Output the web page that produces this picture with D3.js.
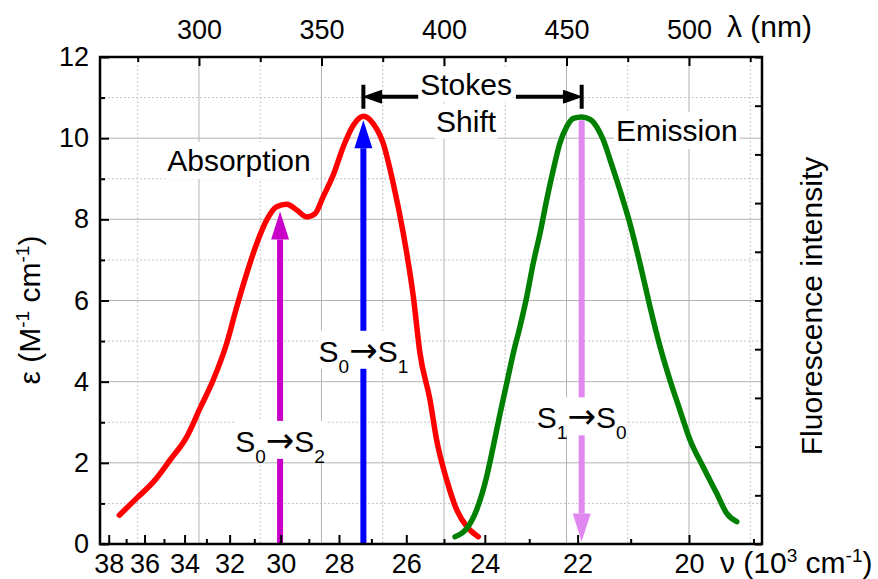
<!DOCTYPE html>
<html>
<head>
<meta charset="utf-8">
<script src="https://cdn.jsdelivr.net/npm/d3@7"></script>
<style>
body { margin:0; background:#fff; }
text { font-family:"Liberation Sans", Arial, sans-serif; }
</style>
</head>
<body>
<div id="vis"></div>
<script>
// absorption spectrum: wavelength (nm) and epsilon
var absLambda = [267.5,274.6,281.4,288.2,295.0,300.4,305.8,311.3,315.4,319.5,323.6,327.6,331.7,335.8,339.9,344.0,347.4,350.7,354.8,358.9,363.0,367.1,371.1,375.2,379.3,383.4,387.5,390.2,394.3,397.0,401.1,405.2,409.3,414.0]
var absEps    = [0.71,1.13,1.53,2.07,2.64,3.34,4.04,4.94,5.84,6.67,7.41,7.98,8.31,8.37,8.23,8.06,8.14,8.56,9.09,9.79,10.32,10.54,10.36,9.87,8.88,7.65,6.09,4.70,3.55,2.56,1.58,0.84,0.43,0.18]
// emission spectrum: wavelength (nm) and fluorescence intensity (a.u.)
var emLambda = [404.5,409.3,413.3,417.4,420.1,422.9,425.6,428.3,431.0,433.8,436.4,439.2,441.9,444.6,447.3,450.1,452.8,456.2,459.6,462.3,465.0,467.8,471.8,475.9,480.0,484.1,488.2,492.2,496.3,500.4,505.8,511.3,515.4,519.5]
var emInt    = [0.15,0.32,0.70,1.38,2.00,2.68,3.30,3.92,4.46,5.08,5.76,6.38,7.06,7.68,8.23,8.57,8.74,8.77,8.72,8.57,8.30,7.89,7.27,6.58,5.76,4.87,4.05,3.37,2.75,2.14,1.58,1.04,0.63,0.46]

// ticks
var nuMajor = [38,36,34,32,30,28,26,24,22,20]
var nuMinor = [37,35,33,31,29,27,25,23,21,19]
var lamMajor = [300,350,400,450,500]
var lamMinor = [275,325,375,425,475,525]
var epsMajor = [0,2,4,6,8,10,12]
var epsMinor = [1,3,5,7,9,11]
var fluoTicks = [0,1,2,3,4,5,6,7,8,9,10]

// transitions
var transFrom  = ["0","0","1"]
var transTo    = ["2","1","0"]
var transLambda = [333.1,367.1,456.2]
var transStart = [0,0,10.44]
var transEnd   = [8.19,10.44,0.06]
var transColor = ["#c800c8","#0000ff","#e088f0"]

var w = 878
var h = 579
var pLeft = 100, pRight = 762, pTop = 57, pBottom = 544

var chart = d3.select("#vis")
              .append("svg")
              .attr("width", w)
              .attr("height", h)

const xScale = d3.scaleLinear()
            .domain([259.6, 529.8])
            .range([pLeft, pRight])
const yScale = d3.scaleLinear()
            .domain([0, 12])
            .range([pBottom, pTop])
const y2Scale = d3.scaleLinear()
            .domain([0, 10])
            .range([pBottom, pTop])

// grid
var grid = chart.append("g")
grid.selectAll(".vmaj").data(lamMajor).enter().append("line")
    .attr("x1", d => xScale(d)).attr("x2", d => xScale(d))
    .attr("y1", pTop).attr("y2", pBottom)
    .attr("stroke", "#b4b4b4").attr("stroke-width", 1)
grid.selectAll(".vmin").data(lamMinor).enter().append("line")
    .attr("x1", d => xScale(d)).attr("x2", d => xScale(d))
    .attr("y1", pTop).attr("y2", pBottom)
    .attr("stroke", "#c4c4c4").attr("stroke-width", 1).attr("stroke-dasharray", "2,2")
grid.selectAll(".hmaj").data(epsMajor.slice(1, -1)).enter().append("line")
    .attr("y1", d => yScale(d)).attr("y2", d => yScale(d))
    .attr("x1", pLeft).attr("x2", pRight)
    .attr("stroke", "#b4b4b4").attr("stroke-width", 1)
grid.selectAll(".hmin").data(epsMinor).enter().append("line")
    .attr("y1", d => yScale(d)).attr("y2", d => yScale(d))
    .attr("x1", pLeft).attr("x2", pRight)
    .attr("stroke", "#c4c4c4").attr("stroke-width", 1).attr("stroke-dasharray", "2,2")

// curves
var absData = absLambda.map((l, i) => [l, absEps[i]])
var emData = emLambda.map((l, i) => [l, emInt[i]])

chart.append("path").datum(absData)
     .attr("d", d3.line().x(d => xScale(d[0])).y(d => yScale(d[1])).curve(d3.curveMonotoneX))
     .attr("fill", "none").attr("stroke", "#ff0000").attr("stroke-width", 5.5)
     .attr("stroke-linecap", "round").attr("stroke-linejoin", "round")
chart.append("path").datum(emData)
     .attr("d", d3.line().x(d => xScale(d[0])).y(d => y2Scale(d[1])).curve(d3.curveMonotoneX))
     .attr("fill", "none").attr("stroke", "#008000").attr("stroke-width", 5.5)
     .attr("stroke-linecap", "round").attr("stroke-linejoin", "round")

// transition arrows
transLambda.forEach(function(l, i) {
  var x = xScale(l)
  var y0 = yScale(transStart[i])
  var y1 = yScale(transEnd[i])
  var dir = y1 < y0 ? -1 : 1
  var yb = y1 - dir * 28
  chart.append("line").attr("x1", x).attr("x2", x).attr("y1", y0).attr("y2", yb)
       .attr("stroke", transColor[i]).attr("stroke-width", 6)
  chart.append("path").attr("d", `M${x - 9},${yb} L${x},${y1} L${x + 9},${yb} Z`)
       .attr("fill", transColor[i])
})

// labels with white box behind
function boxed(t, pad) {
  var b = t.node().getBBox()
  chart.insert("rect", () => t.node())
       .attr("x", b.x - pad).attr("y", b.y - pad)
       .attr("width", b.width + 2 * pad).attr("height", b.height + 2 * pad)
       .attr("fill", "#fff")
}

var labelEps = [2.27, 4.49, 2.85]
transLambda.forEach(function(l, i) {
  var t = chart.append("text")
      .attr("x", xScale(l)).attr("y", yScale(labelEps[i]))
      .attr("text-anchor", "middle").attr("font-size", 30)
  t.append("tspan").text("S")
  t.append("tspan").attr("font-size", 19).attr("dy", 11).text(transFrom[i])
  t.append("tspan").attr("dy", -11).attr("font-family", "'DejaVu Sans'").attr("font-size", 34).text("\u2192")
  t.append("tspan").text("S")
  t.append("tspan").attr("font-size", 19).attr("dy", 11).text(transTo[i])
  var b = t.node().getBBox()
  var yb = yScale(labelEps[i])
  chart.insert("rect", () => t.node())
       .attr("x", b.x - 1).attr("y", yb - 31)
       .attr("width", b.width + 2).attr("height", 38)
       .attr("fill", "#fff")
})

var absT = chart.append("text").attr("x", xScale(316.3)).attr("y", yScale(9.19))
     .attr("text-anchor", "middle").attr("font-size", 30).text("Absorption")
boxed(absT, 2)
var emT = chart.append("text").attr("x", xScale(495)).attr("y", yScale(9.93))
     .attr("text-anchor", "middle").attr("font-size", 30).text("Emission")
boxed(emT, 2)
var stT = chart.append("text").attr("x", xScale(409)).attr("y", yScale(11.06))
     .attr("text-anchor", "middle").attr("font-size", 30).text("Stokes")
boxed(stT, 1)
var shT = chart.append("text").attr("x", xScale(409)).attr("y", yScale(10.16))
     .attr("text-anchor", "middle").attr("font-size", 30).text("Shift")
boxed(shT, 1)

// Stokes shift arrows between the two maxima
var sy = yScale(11.02)
var sb = stT.node().getBBox()
var xa = xScale(transLambda[1]), xe = xScale(transLambda[2])
chart.append("line").attr("x1", sb.x - 2).attr("x2", xa + 14).attr("y1", sy).attr("y2", sy)
     .attr("stroke", "#000").attr("stroke-width", 4)
chart.append("path").attr("d", `M${xa + 18},${sy - 6} L${xa + 1},${sy} L${xa + 18},${sy + 6} Z`)
     .attr("fill", "#000").attr("stroke", "#000").attr("stroke-width", 1.5).attr("stroke-linejoin", "round")
chart.append("line").attr("x1", sb.x + sb.width + 4).attr("x2", xe - 14).attr("y1", sy).attr("y2", sy)
     .attr("stroke", "#000").attr("stroke-width", 4)
chart.append("path").attr("d", `M${xe - 18},${sy - 6} L${xe - 1},${sy} L${xe - 18},${sy + 6} Z`)
     .attr("fill", "#000").attr("stroke", "#000").attr("stroke-width", 1.5).attr("stroke-linejoin", "round")
;[xa, xe].forEach(function(x) {
  chart.append("line").attr("x1", x).attr("x2", x).attr("y1", sy - 12).attr("y2", sy + 12)
       .attr("stroke", "#000").attr("stroke-width", 4)
})

// axes
function styleAxis(g, fs) {
  g.select(".domain").remove()
  g.selectAll(".tick line").attr("stroke", "#000").attr("stroke-width", 2)
  g.selectAll(".tick text").attr("font-size", fs).attr("fill", "#000")
   .attr("font-family", "'Liberation Sans', Arial, sans-serif")
}

var xBot = chart.append("g").attr("transform", `translate(0,${pBottom})`)
     .call(d3.axisBottom(xScale).tickValues(nuMajor.map(n => 1e4 / n))
           .tickSize(-9).tickPadding(10).tickFormat((d, i) => nuMajor[i]))
styleAxis(xBot, 27)
var xBotMin = chart.append("g").attr("transform", `translate(0,${pBottom})`)
     .call(d3.axisBottom(xScale).tickValues(nuMinor.map(n => 1e4 / n)).tickSize(-5).tickFormat(""))
styleAxis(xBotMin, 27)

var xTop = chart.append("g").attr("transform", `translate(0,${pTop})`)
     .call(d3.axisTop(xScale).tickValues(lamMajor).tickSize(-9).tickPadding(18))
styleAxis(xTop, 27)
var xTopMin = chart.append("g").attr("transform", `translate(0,${pTop})`)
     .call(d3.axisTop(xScale).tickValues(lamMinor).tickSize(-5).tickFormat(""))
styleAxis(xTopMin, 27)

var yLeft = chart.append("g").attr("transform", `translate(${pLeft},0)`)
     .call(d3.axisLeft(yScale).tickValues(epsMajor).tickSize(-9).tickPadding(11))
styleAxis(yLeft, 27)
var yLeftMin = chart.append("g").attr("transform", `translate(${pLeft},0)`)
     .call(d3.axisLeft(yScale).tickValues(epsMinor).tickSize(-5).tickFormat(""))
styleAxis(yLeftMin, 27)

var yRight = chart.append("g").attr("transform", `translate(${pRight},0)`)
     .call(d3.axisRight(y2Scale).tickValues(fluoTicks).tickSize(-7).tickFormat(""))
styleAxis(yRight, 27)

// frame
chart.append("rect").attr("x", pLeft).attr("y", pTop)
     .attr("width", pRight - pLeft).attr("height", pBottom - pTop)
     .attr("fill", "none").attr("stroke", "#000").attr("stroke-width", 2.5)

// axis titles
var tTop = chart.append("text").attr("x", 727).attr("y", 37).attr("font-size", 30)
tTop.text("\u03bb (nm)")

var tBot = chart.append("text").attr("x", 720).attr("y", 573).attr("font-size", 30)
tBot.append("tspan").text("\u03bd (10")
tBot.append("tspan").attr("font-size", 19).attr("dy", -11).text("3")
tBot.append("tspan").attr("dy", 11).text(" cm")
tBot.append("tspan").attr("font-size", 19).attr("dy", -11).text("-1")
tBot.append("tspan").attr("dy", 11).text(")")

var tLeft = chart.append("text").attr("transform", "translate(40,310) rotate(-90)")
     .attr("text-anchor", "middle").attr("font-size", 30)
tLeft.append("tspan").text("\u03b5 (M")
tLeft.append("tspan").attr("font-size", 19).attr("dy", -11).text("-1")
tLeft.append("tspan").attr("dy", 11).text(" cm")
tLeft.append("tspan").attr("font-size", 19).attr("dy", -11).text("-1")
tLeft.append("tspan").attr("dy", 11).text(")")

chart.append("text").attr("transform", "translate(822,306) rotate(-90)")
     .attr("text-anchor", "middle").attr("font-size", 30).text("Fluorescence intensity")
</script>
</body>
</html>
